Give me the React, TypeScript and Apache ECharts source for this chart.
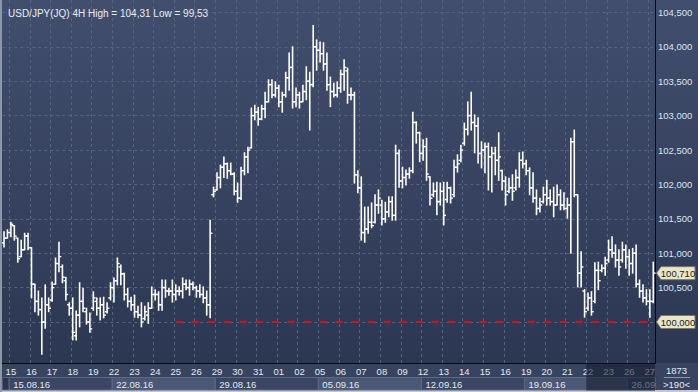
import React, { useEffect, useRef } from 'react';
import * as echarts from 'echarts';

// ---- data -------------------------------------------------------------
const tradingDays = ['12.08','15.08','16.08','17.08','18.08','19.08','22.08','23.08','24.08','25.08','26.08','29.08','30.08','31.08','01.09','02.09','05.09','06.09','07.09','08.09','09.09','12.09','13.09','14.09','15.09','16.09','19.09','20.09','21.09','22.09','23.09','26.09','27.09'];
const barHours = ['00:00','04:00','08:00','12:00','16:00','20:00'];
const weekLabels = ['15.08.16','22.08.16','29.08.16','05.09.16','12.09.16','19.09.16','26.09'];
const gridTicks = [100, 100.5, 101, 101.5, 102, 102.5, 103, 103.5, 104, 104.5];
const labelTicks = [100.5, 101, 101.5, 102, 102.5, 103, 103.5, 104, 104.5];

const opens = [
101.15,101.22,101.30,101.40,101.22,100.95,101.05,101.25,101.08,100.55,
100.30,100.18,100.00,100.25,100.32,100.55,100.85,100.80,100.60,100.25,
100.20,99.80,100.10,100.30,100.15,100.00,100.20,100.30,100.20,100.25,
100.15,100.35,100.50,100.60,100.80,100.70,100.40,100.30,100.25,100.15,
100.10,100.05,100.10,100.20,100.40,100.40,100.25,100.50,100.45,100.45,
100.40,100.45,100.45,100.55,100.50,100.55,100.50,100.45,100.40,100.35,
100.25,101.85,101.92,102.10,102.25,102.30,102.20,102.15,101.90,101.80,
102.20,102.40,102.53,103.00,103.05,102.95,103.10,103.20,103.45,103.30,
103.40,103.20,103.30,103.55,103.70,103.20,103.30,103.20,103.35,103.50,
103.45,104.00,103.95,103.90,103.75,103.45,103.35,103.30,103.40,103.60,
103.65,103.30,103.30,102.14,101.95,101.30,101.35,101.45,101.45,101.70,
101.70,101.50,101.60,101.75,101.55,102.45,102.05,102.10,102.15,102.20,
102.90,102.75,102.45,102.55,102.11,101.85,101.90,101.75,101.90,101.78,
101.95,101.85,102.25,102.35,102.60,102.80,103.00,102.90,102.85,102.45,
102.50,102.55,102.40,102.45,102.35,102.20,102.05,101.90,101.95,101.95,
102.10,102.35,102.30,102.20,101.95,101.80,101.65,101.75,101.85,101.80,
101.75,101.70,101.85,101.70,101.65,101.70,102.62,101.85,100.71,100.45,
100.20,100.35,100.30,100.75,100.75,100.78,100.90,101.05,101.00,100.90,
100.90,101.05,100.95,100.85,101.00,100.55,100.45,100.35,100.30,100.30];

const highs = [
101.31,101.34,101.45,101.40,101.22,101.19,101.29,101.29,101.08,100.55,
100.45,100.35,100.54,100.35,100.58,100.93,101.16,100.83,100.65,100.28,
100.35,100.16,100.57,100.49,100.20,100.13,100.44,100.35,100.35,100.36,
100.28,100.57,100.64,100.93,100.83,100.71,100.49,100.36,100.39,100.23,
100.28,100.23,100.28,100.51,100.47,100.44,100.61,100.61,100.49,100.61,
100.54,100.51,100.64,100.61,100.61,100.58,100.52,100.54,100.51,100.45,
101.48,101.96,102.17,102.28,102.40,102.31,102.31,102.17,102.02,102.25,
102.46,102.54,103.11,103.15,103.12,103.15,103.34,103.52,103.52,103.49,
103.44,103.34,103.63,103.91,104.00,103.40,103.34,103.44,103.71,103.63,
104.31,104.10,104.07,104.06,103.91,103.56,103.47,103.49,103.66,103.81,
103.69,103.40,103.34,102.20,102.11,101.67,101.67,101.73,101.85,101.92,
101.77,101.74,101.82,101.82,102.57,102.50,102.25,102.21,102.24,103.05,
102.91,102.76,102.65,102.67,102.11,102.02,102.03,102.02,102.03,102.03,
101.96,102.35,102.43,102.57,102.89,103.20,103.34,103.01,102.97,102.62,
102.60,102.60,102.54,102.54,102.75,102.21,102.11,102.09,102.14,102.21,
102.46,102.47,102.35,102.24,102.17,101.92,101.80,101.96,102.06,101.92,
101.96,101.99,101.92,101.88,101.80,102.67,102.79,101.85,101.02,100.47,
100.42,100.44,100.86,100.87,100.83,100.94,101.19,101.24,101.12,101.05,
101.16,101.12,101.05,101.07,101.12,100.61,100.54,100.47,100.47,100.87];

const lows = [
101.09,101.22,101.24,101.19,100.87,100.95,101.05,101.05,100.35,100.15,
100.10,99.53,99.91,100.15,100.30,100.55,100.73,100.57,100.32,100.10,
99.74,99.74,99.93,100.15,99.97,99.85,100.17,100.10,100.03,100.06,
100.13,100.32,100.29,100.54,100.54,100.32,100.22,100.17,100.07,100.06,
99.93,100.03,99.98,100.20,100.32,100.17,100.17,100.36,100.39,100.29,
100.32,100.39,100.35,100.47,100.39,100.47,100.36,100.36,100.28,100.10,
100.06,101.82,101.92,101.95,102.10,102.09,102.14,101.85,101.74,101.78,
102.14,102.17,102.53,102.94,102.86,102.94,102.97,103.20,103.26,103.27,
103.13,103.05,103.27,103.37,103.11,103.13,103.11,103.20,103.23,102.79,
103.42,103.66,103.78,103.66,103.37,103.13,103.27,103.27,103.34,103.37,
103.18,103.23,102.02,101.88,101.19,101.16,101.29,101.37,101.44,101.58,
101.41,101.45,101.53,101.48,101.48,101.96,101.95,101.99,102.09,102.17,
102.60,102.33,102.35,102.06,101.70,101.82,101.56,101.70,101.41,101.74,
101.73,101.82,102.18,102.33,102.57,102.72,102.79,102.46,102.31,102.24,
102.17,101.92,101.89,102.14,102.06,101.92,101.70,101.88,101.77,101.92,
101.96,102.24,102.14,101.85,101.74,101.56,101.60,101.73,101.70,101.70,
101.53,101.70,101.63,101.63,101.51,101.00,101.82,100.51,100.51,100.07,
100.17,100.10,100.28,100.47,100.73,100.68,100.87,100.94,100.80,100.68,
100.87,100.78,100.68,100.71,100.51,100.36,100.29,100.25,100.07,100.28];

const closes = [
101.22,101.30,101.42,101.25,100.92,101.05,101.25,101.08,100.55,100.30,
100.18,100.00,100.25,100.20,100.50,100.85,100.95,100.65,100.40,100.20,
99.85,100.10,100.30,100.20,100.00,99.90,100.35,100.20,100.25,100.10,
100.20,100.50,100.60,100.85,100.70,100.40,100.30,100.25,100.15,100.10,
100.00,100.15,100.20,100.40,100.40,100.25,100.50,100.45,100.45,100.40,
100.45,100.45,100.55,100.50,100.55,100.50,100.45,100.40,100.35,100.25,
101.29,101.90,102.10,102.25,102.30,102.20,102.15,101.90,101.80,102.20,
102.40,102.50,103.00,103.05,102.95,103.10,103.20,103.45,103.30,103.40,
103.20,103.30,103.55,103.70,103.20,103.30,103.20,103.35,103.50,103.45,
104.00,103.95,103.90,103.75,103.45,103.35,103.30,103.40,103.60,103.70,
103.30,103.30,102.14,101.95,101.30,101.35,101.45,101.40,101.70,101.80,
101.50,101.60,101.75,101.55,102.45,102.05,102.10,102.15,102.20,102.90,
102.75,102.45,102.55,102.15,101.80,101.90,101.75,101.90,101.55,101.95,
101.80,102.25,102.30,102.50,102.80,103.00,102.90,102.85,102.45,102.50,
102.55,102.40,102.45,102.35,102.40,102.05,101.85,101.95,101.90,102.10,
102.35,102.30,102.20,101.95,101.80,101.65,101.70,101.85,101.80,101.75,
101.70,101.85,101.70,101.65,101.70,102.62,101.85,100.71,100.80,100.15,
100.35,100.15,100.75,100.60,100.78,100.85,101.05,101.00,100.90,100.80,
101.05,100.95,100.85,101.00,100.55,100.45,100.35,100.30,100.30,100.71];

const refLevel = 100.0;
const refStartBar = 50;
const titleText = 'USD/JPY(JQ) 4H High = 104,31 Low = 99,53';
const counterText = '1873';
const dimFromDay = '22.09';

// ---- layout / style ---------------------------------------------------
const W = 698;
const H = 392;
const FONT = '"Liberation Sans", Arial, sans-serif';
const PLOT_BOTTOM = 363;

const categories: string[] = [];
tradingDays.forEach((d, k) => {
  const hrs = k === 0 ? barHours.slice(4) : k === tradingDays.length - 1 ? barHours.slice(0, 2) : barHours;
  hrs.forEach((h) => categories.push(`${d} ${h}`));
});
const isDayStart = (i: number) => (categories[i] || '').endsWith('00:00');
const fmt = (v: number) => v.toFixed(3).replace('.', ',');

export default function App() {
  const ref = useRef<HTMLDivElement>(null);
  useEffect(() => {
    const chart = echarts.init(ref.current!, null, { renderer: 'svg', width: W, height: H });
    const data = opens.map((o, i) => [i, o, highs[i], lows[i], closes[i]]);
    const refLine = categories.map((_, i) => (i >= refStartBar ? refLevel : null));
    const yMin = 100 - 41 / 68.8;
    const yMax = 100 + 322 / 68.8;

    chart.setOption({
      animation: false,
      backgroundColor: 'transparent',
      title: {
        text: titleText, left: 3, top: 3,
        textStyle: { color: '#e8edf4', fontSize: 10, fontWeight: 'normal', fontFamily: FONT },
      },
      grid: { left: 2.3, right: W - 655, top: 0, bottom: H - PLOT_BOTTOM },
      xAxis: [
        {
          type: 'category', data: categories, boundaryGap: true, position: 'bottom',
          axisLine: { show: true, lineStyle: { color: '#05070c', width: 1 } },
          axisTick: { show: false },
          axisLabel: { show: false },
          splitLine: { show: true, interval: (i: number) => isDayStart(i), lineStyle: { color: '#56637f', type: [3, 3], width: 1 } },
        },
        {
          type: 'category', data: categories, boundaryGap: true, position: 'bottom',
          axisLine: { show: false }, axisTick: { show: false }, splitLine: { show: false },
          axisLabel: {
            show: true, interval: (i: number) => isDayStart(i), margin: 3,
            formatter: (v: string) => v.slice(0, 2),
            color: '#e4e9f1', fontSize: 9.5, fontFamily: FONT,
          },
          z: 5,
        },
      ],
      yAxis: {
        type: 'value', position: 'right', min: yMin, max: yMax, scale: true,
        axisLine: { show: true, lineStyle: { color: '#05070c', width: 1 } },
        axisTick: { show: false, customValues: gridTicks },
        axisLabel: {
          show: true, customValues: labelTicks, margin: 3, color: '#dbe4f0',
          fontSize: 9.5, fontFamily: FONT, formatter: (v: number) => fmt(v),
        },
        splitLine: { show: true, lineStyle: { color: '#56637f', type: [3, 3], width: 1 } },
      },
      series: [
        {
          type: 'custom',
          xAxisIndex: 0,
          encode: { x: 0, y: [1, 2, 3, 4] },
          data,
          clip: true,
          renderItem: (params: any, api: any) => {
            const i = api.value(0);
            const pO = api.coord([i, api.value(1)]);
            const pH = api.coord([i, api.value(2)]);
            const pL = api.coord([i, api.value(3)]);
            const pC = api.coord([i, api.value(4)]);
            const x = pH[0];
            const st = { stroke: '#ffffff', lineWidth: 1.6 };
            const tk = { stroke: '#ffffff', lineWidth: 1.4 };
            return {
              type: 'group',
              children: [
                { type: 'line', shape: { x1: x, y1: pH[1] - 0.5, x2: x, y2: pL[1] + 0.5 }, style: st },
                { type: 'line', shape: { x1: x - 2.3, y1: pO[1], x2: x, y2: pO[1] }, style: tk },
                { type: 'line', shape: { x1: x, y1: pC[1], x2: x + 2.3, y2: pC[1] }, style: tk },
              ],
            };
          },
          z: 3,
        },
        {
          type: 'line', xAxisIndex: 0, data: refLine, symbol: 'none', showSymbol: false,
          lineStyle: { color: '#d4111b', width: 2, type: [7, 9] }, z: 4, silent: true,
        },
      ],
    });

    const px = (i: number) => chart.convertToPixel({ xAxisIndex: 0 }, i) as number;
    const py = (v: number) => chart.convertToPixel({ yAxisIndex: 0 }, v) as number;
    const bw = px(1) - px(0);
    const gridLeft = px(0) - bw / 2;
    const gridRight = 655;
    const bandLeft = (i: number) => (i >= categories.length ? gridRight : px(i) - bw / 2);

    const graphics: any[] = [];
    // week boxes
    const weekStarts = weekLabels.map((w) => categories.indexOf(`${w.slice(0, 5)} 00:00`));
    graphics.push({
      type: 'rect', shape: { x: gridLeft, y: 377.5, width: bandLeft(weekStarts[0]) - gridLeft, height: 12.5 },
      style: { fill: '#2b3550', stroke: '#56627c', lineWidth: 1 }, z: 1,
    });
    weekStarts.forEach((s, k) => {
      const e = k + 1 < weekStarts.length ? weekStarts[k + 1] : categories.length;
      const x0 = bandLeft(s);
      const x1 = Math.min(bandLeft(e), gridRight);
      graphics.push({
        type: 'rect', shape: { x: x0, y: 377.5, width: x1 - x0, height: 12.5 },
        style: { fill: k % 2 === 1 ? '#4a5775' : '#3a4664', stroke: '#5d6984', lineWidth: 1 }, z: 1,
      });
      graphics.push({
        type: 'text', x: x0 + 4, y: 384,
        style: { text: weekLabels[k], fill: '#e4e9f1', font: `9.5px ${FONT}`, align: 'left', verticalAlign: 'middle', textAlign: 'left', textVerticalAlign: 'middle' },
        z: 2,
      });
    });
    // dimmed overlay for the latest days
    const dimStart = categories.indexOf(`${dimFromDay} 00:00`);
    graphics.push({
      type: 'rect', shape: { x: bandLeft(dimStart), y: PLOT_BOTTOM + 0.5, width: gridRight - bandLeft(dimStart), height: 27 },
      style: { fill: 'rgba(22,30,48,0.6)' }, z: 50,
    });
    // price tags
    const tag = (v: number) => {
      const y = py(v);
      return {
        type: 'group', z: 60,
        children: [
          {
            type: 'polygon',
            shape: { points: [[656.5, y], [661, y - 6.5], [695, y - 6.5], [695, y + 6.5], [661, y + 6.5]] },
            style: { fill: '#ebe5c8', stroke: '#7d7a6c', lineWidth: 1 },
          },
          {
            type: 'text', x: 678, y: y + 0.5,
            style: { text: fmt(v), fill: '#1a1a1a', font: `9.5px ${FONT}`, align: 'center', verticalAlign: 'middle', textAlign: 'center', textVerticalAlign: 'middle' },
          },
        ],
      };
    };
    graphics.push(tag(refLevel));
    graphics.push(tag(closes[closes.length - 1]));
    // counter box
    graphics.push({
      type: 'text', x: 676.5, y: 370.5, z: 60,
      style: { text: counterText, fill: '#e4e9f1', font: `9.5px ${FONT}`, align: 'center', verticalAlign: 'middle', textAlign: 'center', textVerticalAlign: 'middle' },
    });
    graphics.push({
      type: 'line', z: 60, shape: { x1: 664, y1: 377.5, x2: 690, y2: 377.5 },
      style: { stroke: '#8c97ad', lineWidth: 1 },
    });
    graphics.push({
      type: 'text', x: 676.5, y: 384.5, z: 60,
      style: { text: `>${categories.length}<`, fill: '#e4e9f1', font: `9.5px ${FONT}`, align: 'center', verticalAlign: 'middle', textAlign: 'center', textVerticalAlign: 'middle' },
    });
    chart.setOption({ graphic: graphics });

    return () => chart.dispose();
  }, []);

  return (
    <div style={{ position: 'fixed', left: 0, top: 0, width: W, height: H, overflow: 'hidden', background: 'linear-gradient(#414e6d, #2c3752 93%)' }}>
      <div style={{ position: 'absolute', left: 0, top: PLOT_BOTTOM, width: W, height: H - PLOT_BOTTOM, background: '#37435f' }} />
      <div style={{ position: 'absolute', left: 0, top: 390, width: W, height: 2, background: '#c4c8ce' }} />
      <div style={{ position: 'absolute', left: 0, top: 0, width: 2, height: H, background: '#8d97a8' }} />
      <div ref={ref} style={{ position: 'absolute', left: 0, top: 0, width: W, height: H }} />
    </div>
  );
}
